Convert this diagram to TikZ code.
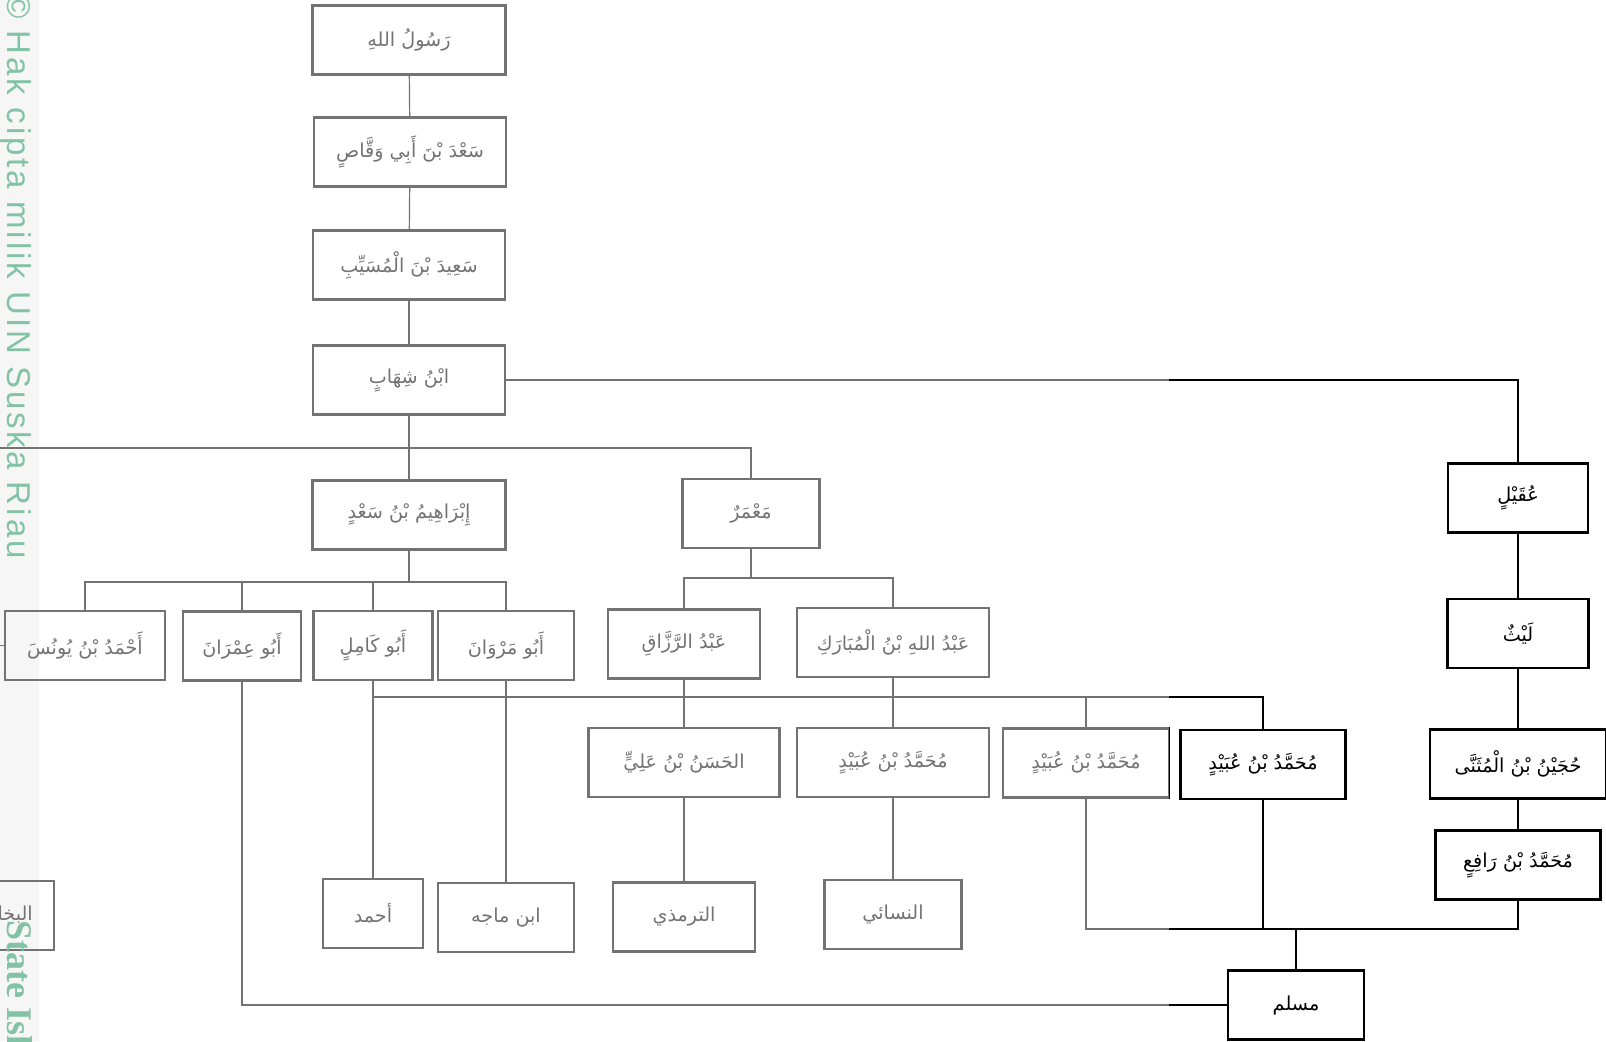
\documentclass[tikz,border=0pt]{standalone}
\usepackage{fontspec}
\setmainfont{Liberation Sans}
\newfontfamily\arabicfont[Script=Arabic]{DejaVu Sans}
\newfontfamily\stripfont[LetterSpace=9]{Liberation Sans}
\newfontfamily\stripserif{Liberation Serif}
\usepackage{tikz}
\usetikzlibrary{calc}
\TeXXeTstate=1
\definecolor{suska}{HTML}{82C2A6}
\newcommand\ar[1]{\beginR#1\endR}
\tikzset{
  rawi/.style={draw,line width=1.25pt,minimum height=34.5pt,inner sep=2pt,
    font=\arabicfont\fontsize{9.6}{12}\selectfont},
  sanad/.style={line width=.6pt},
  strip/.style={rotate=-90,anchor=base west,inner sep=0pt,text=suska},
}

\begin{document}
\begin{tikzpicture}[x=.5pt,y=-.5pt]
	\useasboundingbox (0,0) rectangle (1606,1041);
	\fill[gray!12] (0,0) rectangle (39,1041);
	% chain down to Ibn Shihab
	\node[rawi,minimum width=96.5pt] (rasul)   at (409,40)    {\ar{رَسُولُ اللهِ}};
	\node[rawi,minimum width=96pt]   (saad)    at (410,152)   {\ar{سَعْدَ بْنَ أَبِي وَقَّاصٍ}};
	\node[rawi,minimum width=96pt]   (said)    at (409,265)   {\ar{سَعِيدَ بْنَ الْمُسَيِّبِ}};
	\node[rawi,minimum width=96pt]   (shihab)  at (409,380)   {\ar{ابْنُ شِهَابٍ}};
	\node[rawi,minimum width=96.5pt] (ibrahim) at (409,515)   {\ar{إِبْرَاهِيمُ بْنُ سَعْدٍ}};
	\node[rawi,minimum width=68.5pt] (mamar)   at (751,513.5) {\ar{مَعْمَرٌ}};
	\node[rawi,minimum width=70pt]   (uqail)   at (1518,498)  {\ar{عُقَيْلٍ}};
	\node[rawi,minimum width=70.5pt] (layth)   at (1518,633.5){\ar{لَيْثٌ}};
	\node[rawi,minimum width=88pt]   (hujain)  at (1518,764)  {\ar{حُجَيْنُ بْنُ الْمُثَنَّى}};
	\node[rawi,minimum width=82.5pt] (rafi)    at (1518,865)  {\ar{مُحَمَّدُ بْنُ رَافِعٍ}};
	% second row
	\node[rawi,minimum width=80pt]   (yunus)   at (85,645.5)  {\ar{أَحْمَدُ بْنُ يُونُسَ}};
	\node[rawi,minimum width=59pt]   (imran)   at (242,646)   {\ar{أَبُو عِمْرَانَ}};
	\node[rawi,minimum width=59.5pt] (kamil)   at (373,645.5) {\ar{أَبُو كَامِلٍ}};
	\node[rawi,minimum width=68pt]   (marwan)  at (506,645.5) {\ar{أَبُو مَرْوَانَ}};
	\node[rawi,minimum width=76pt]   (razzaq)  at (684,644)   {\ar{عَبْدُ الرَّزَّاقِ}};
	\node[rawi,minimum width=96pt]   (mubarak) at (893,642.5) {\ar{عَبْدُ اللهِ بْنُ الْمُبَارَكِ}};
	% third row
	\node[rawi,minimum width=95.5pt] (hasan)   at (684,762.5) {\ar{الحَسَنُ بْنُ عَلِيٍّ}};
	\node[rawi,minimum width=96pt]   (ubaidA)  at (893,762.5) {\ar{مُحَمَّدُ بْنُ عُبَيْدٍ}};
	\node[rawi,minimum width=83pt]   (ubaidB)  at (1086,763)  {\ar{مُحَمَّدُ بْنُ عُبَيْدٍ}};
	\node[rawi,minimum width=82.5pt] (ubaidC)  at (1263,764.5){\ar{مُحَمَّدُ بْنُ عُبَيْدٍ}};
	% collectors
	\node[rawi,minimum width=67pt]   (bukhari) at (-13,915.5) {\hspace{16pt}\ar{البخاري}};
	\node[rawi,minimum width=50pt]   (ahmad)   at (373,913.5) {\ar{أحمد}};
	\node[rawi,minimum width=68pt]   (majah)   at (506,917.5) {\ar{ابن ماجه}};
	\node[rawi,minimum width=71pt]   (tirmidhi) at (684,917)  {\ar{الترمذي}};
	\node[rawi,minimum width=68.5pt] (nasai)   at (893,914.5) {\ar{النسائي}};
	\node[rawi,minimum width=68pt]   (muslim)  at (1296,1005) {\ar{مسلم}};
	\coordinate (offA) at (-10,448);
	\coordinate (offB) at (-10,645.5);
	\coordinate (hubB) at (409,582);
	\coordinate (hubC) at (751,578);
	\coordinate (hubD) at (0,697);
	\coordinate (hubE) at (1296,929);
	\draw[sanad] (rasul) -- (saad);
	\draw[sanad] (saad) -- (said);
	\draw[sanad] (said) -- (shihab);
	\draw[sanad] (shihab) -- (ibrahim);
	\draw[sanad] (offA) -| (mamar);
	\draw[sanad] (shihab) -| (uqail);
	\draw[sanad] (uqail) -- (layth);
	\draw[sanad] (layth) -- (hujain);
	\draw[sanad] (hujain) -- (rafi);
	\draw[sanad] (ibrahim) -- (hubB);
	\draw[sanad] (yunus) |- (hubB) -| (marwan);
	\draw[sanad] (imran) -- (imran |- hubB);
	\draw[sanad] (kamil) -- (kamil |- hubB);
	\draw[sanad] (yunus) -- (offB);
	\draw[sanad] (mamar) -- (hubC);
	\draw[sanad] (razzaq) |- (hubC) -| (mubarak);
	\draw[sanad] (kamil) -- (ahmad);
	\draw[sanad] (ahmad |- hubD) -| (ubaidC);
	\draw[sanad] (marwan) -- (majah);
	\draw[sanad] (razzaq) -- (hasan);
	\draw[sanad] (hasan) -- (tirmidhi);
	\draw[sanad] (mubarak) -- (ubaidA);
	\draw[sanad] (ubaidA) -- (nasai);
	\draw[sanad] (ubaidB) -- (ubaidB |- hubD);
	\draw[sanad] (ubaidB) |- (hubE) -| (rafi);
	\draw[sanad] (ubaidC) -- (ubaidC |- hubE);
	\draw[sanad] (hubE) -- (muslim);
	\draw[sanad] (imran) |- (muslim);
	% faded part of the page
	\fill[white,opacity=.45] (0,0) rectangle (1169,1041);
	\node[strip,font=\stripfont\fontsize{16.5}{16.5}\selectfont] (hak) at (8,-6) {© Hak cipta milik UIN Suska Riau};
	\node[strip,font=\stripserif\bfseries\fontsize{18}{18}\selectfont] (state) at (8,920) {State Islamic};
\end{tikzpicture}
\end{document}
